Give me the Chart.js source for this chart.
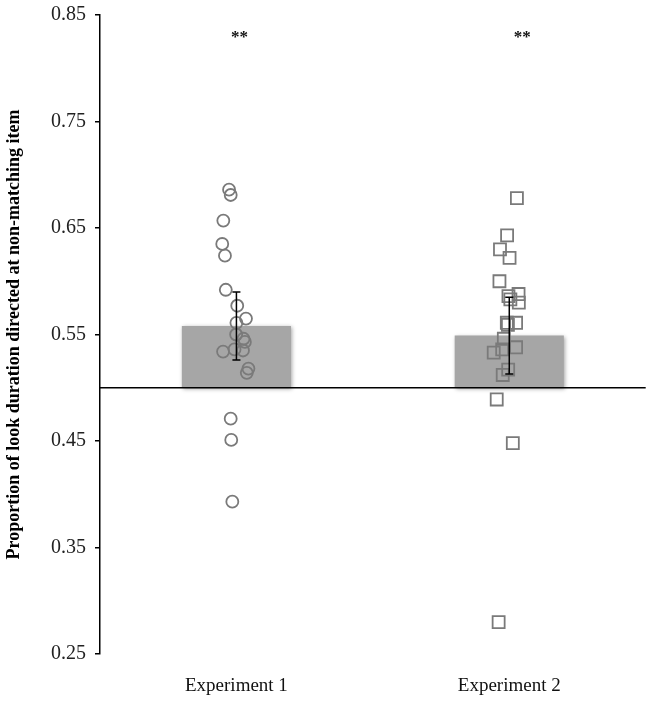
<!DOCTYPE html>
<html>
<head>
<meta charset="utf-8">
<script src="https://cdn.jsdelivr.net/npm/chart.js@4.4.1/dist/chart.umd.min.js"></script>
<style>
  html, body { margin: 0; padding: 0; background: #fff; }
  #wrap { width: 656px; height: 702px; }
</style>
</head>
<body>
<div id="wrap"><canvas id="chart" width="656" height="702"></canvas></div>
<script>
// categories and summary values
const experiments = ["Experiment 1", "Experiment 2"];
const chanceLevel = 0.5;
const means = [0.558, 0.549];
const sem = [0.032, 0.036];
const sigLabels = ["**", "**"];

// individual participant proportions
const exp1Values = [0.686, 0.681, 0.657, 0.635, 0.624, 0.592, 0.577, 0.565, 0.561, 0.550,
                    0.546, 0.543, 0.536, 0.535, 0.534, 0.518, 0.514, 0.471, 0.451, 0.393];
const exp1Jitter = [-0.027, -0.021, -0.048, -0.052, -0.042, -0.039, 0.003, 0.035, 0.000, -0.001,
                    0.026, 0.031, -0.007, 0.024, -0.049, 0.044, 0.038, -0.021, -0.019, -0.015];

const exp2Values = [0.678, 0.643, 0.630, 0.622, 0.600, 0.588, 0.586, 0.583, 0.580, 0.561,
                    0.561, 0.559, 0.546, 0.538, 0.536, 0.533, 0.517, 0.512, 0.489, 0.448, 0.280];
const exp2Jitter = [0.028, -0.008, -0.034, 0.001, -0.036, 0.034, -0.003, 0.004, 0.035, -0.009,
                    0.025, -0.005, -0.020, 0.025, -0.026, -0.057, -0.004, -0.024, -0.046, 0.013, -0.039];

const yTicks = [0.25, 0.35, 0.45, 0.55, 0.65, 0.75, 0.85];

const serif = "'Liberation Serif', 'Times New Roman', serif";

function toPoints(values, jitter, idx) {
    return values.map((v, i) => ({ x: idx + jitter[i], y: v }));
}

// soft shadow under the bars
const barShadow = {
    id: "barShadow",
    beforeDatasetDraw(chart, args) {
        if (args.index !== 0) return;
        const ctx = chart.ctx;
        ctx.save();
        ctx.shadowColor = "rgba(0,0,0,0.35)";
        ctx.shadowBlur = 4;
        ctx.shadowOffsetX = 1;
        ctx.shadowOffsetY = 1;
    },
    afterDatasetDraw(chart, args) {
        if (args.index !== 0) return;
        chart.ctx.restore();
    }
};

// reference line at chance, error bars and significance stars
const overlay = {
    id: "overlay",
    afterDatasetsDraw(chart) {
        const ctx = chart.ctx;
        const x = chart.scales.x;
        const y = chart.scales.y;
        const area = chart.chartArea;

        ctx.save();
        ctx.strokeStyle = "#000";
        ctx.lineWidth = 1.5;
        const yc = y.getPixelForValue(chanceLevel);
        ctx.beginPath();
        ctx.moveTo(area.left, yc);
        ctx.lineTo(area.right, yc);
        ctx.stroke();

        means.forEach((m, i) => {
            const cx = x.getPixelForValue(i);
            const top = y.getPixelForValue(m + sem[i]);
            const bot = y.getPixelForValue(m - sem[i]);
            ctx.beginPath();
            ctx.moveTo(cx, top);
            ctx.lineTo(cx, bot);
            ctx.moveTo(cx - 4, top);
            ctx.lineTo(cx + 4, top);
            ctx.moveTo(cx - 4, bot);
            ctx.lineTo(cx + 4, bot);
            ctx.stroke();
        });

        ctx.fillStyle = "#111";
        ctx.font = "bold 17px " + serif;
        ctx.textAlign = "center";
        ctx.textBaseline = "middle";
        sigLabels.forEach((s, i) => {
            ctx.fillText(s, x.getPixelForValue(i) + (i === 0 ? 3 : 13), y.getPixelForValue(0.829));
        });
        ctx.restore();
    }
};

const pointColor = "#7a7a7a";

new Chart(document.getElementById("chart"), {
    type: "bar",
    data: {
        labels: experiments,
        datasets: [
            {
                label: "Mean",
                data: means.map(m => [chanceLevel, m]),
                backgroundColor: "#a6a6a6",
                borderWidth: 0,
                grouped: false,
                barPercentage: 0.4,
                categoryPercentage: 1.0,
                order: 2
            },
            {
                type: "scatter",
                label: "Experiment 1",
                xAxisID: "x2",
                data: toPoints(exp1Values, exp1Jitter, 0),
                pointStyle: "circle",
                pointRadius: 6,
                pointBorderWidth: 1.8,
                pointBorderColor: pointColor,
                pointBackgroundColor: "rgba(0,0,0,0)",
                order: 1
            },
            {
                type: "scatter",
                label: "Experiment 2",
                xAxisID: "x2",
                data: toPoints(exp2Values, exp2Jitter, 1),
                pointStyle: "rect",
                pointRadius: 8.5,
                pointBorderWidth: 1.8,
                pointBorderColor: pointColor,
                pointBackgroundColor: "rgba(0,0,0,0)",
                order: 1
            }
        ]
    },
    options: {
        responsive: false,
        animation: false,
        layout: { padding: { top: 15, right: 8, bottom: 0, left: 0 } },
        plugins: {
            legend: { display: false },
            tooltip: { enabled: false }
        },
        scales: {
            x: {
                grid: { display: false },
                border: { display: false },
                ticks: { color: "#111", font: { family: serif, size: 19 }, padding: 13 },
                afterFit(scale) { scale.height = 48; }
            },
            x2: {
                type: "linear",
                display: false,
                offset: false,
                min: -0.5,
                max: 1.5
            },
            y: {
                min: 0.25,
                max: 0.85,
                afterBuildTicks(scale) { scale.ticks = yTicks.map(v => ({ value: v })); },
                afterFit(scale) {
                    scale.width = 100;
                    scale.paddingTop = 0;
                    scale.paddingBottom = 0;
                },
                grid: { drawOnChartArea: false, drawTicks: true, tickLength: 5, color: "#000", lineWidth: 1.5 },
                border: { display: true, color: "#000", width: 1.5 },
                ticks: {
                    color: "#222",
                    padding: 9,
                    font: { family: serif, size: 20 },
                    callback: v => v.toFixed(2)
                },
                title: {
                    display: true,
                    text: "Proportion of look duration directed at non-matching item",
                    color: "#000",
                    font: { family: serif, size: 18, weight: "bold" },
                    padding: { top: 4, bottom: 0 }
                }
            }
        }
    },
    plugins: [barShadow, overlay]
});
</script>
</body>
</html>
